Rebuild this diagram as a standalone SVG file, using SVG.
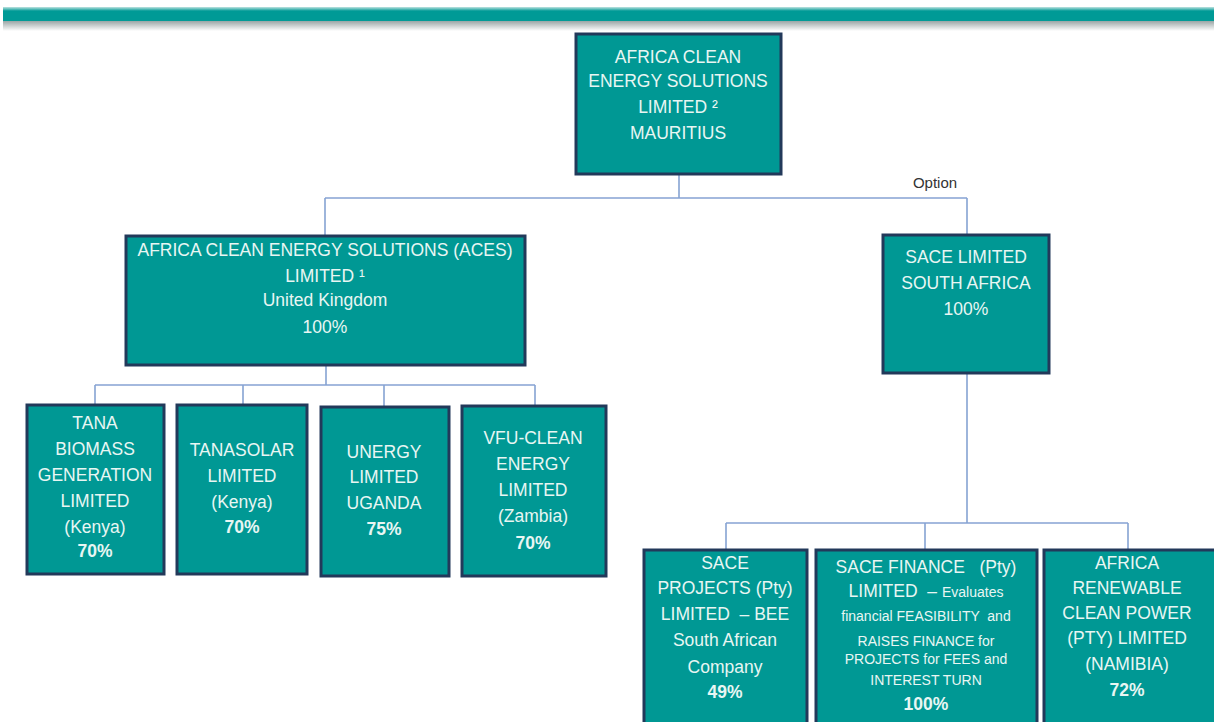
<svg xmlns="http://www.w3.org/2000/svg" width="1214" height="722" viewBox="0 0 1214 722">
<defs>
<linearGradient id="shadow" x1="0" y1="0" x2="0" y2="1">
<stop offset="0" stop-color="#9aa6a6"/>
<stop offset="1" stop-color="#ffffff"/>
</linearGradient>
<linearGradient id="barTop" x1="0" y1="0" x2="0" y2="1">
<stop offset="0" stop-color="#bfe3e0"/>
<stop offset="1" stop-color="#009a96"/>
</linearGradient>
</defs>
<style>
.box{fill:#009894;stroke:#22395a;stroke-width:3}
.t{font-family:"Liberation Sans",Arial,sans-serif;font-size:17.5px;fill:#e8f6f3;text-anchor:middle;white-space:pre}
.s{font-size:14px}
.b{font-weight:bold}
.c{fill:none;stroke:#86a3d3;stroke-width:1.6}
.opt{font-family:"Liberation Sans",Arial,sans-serif;font-size:15px;fill:#333333}
</style>
<rect x="0" y="0" width="1214" height="722" fill="#ffffff"/>
<rect x="3" y="7" width="1211" height="4" fill="url(#barTop)"/>
<rect x="3" y="11" width="1211" height="10" fill="#009a96"/>
<rect x="3" y="21" width="1211" height="10" fill="url(#shadow)"/>

<g id="connectors">
<path class="c" d="M679 175 V198 M325 198 H967 M325 198 V236 M967 198 V235"/>
<path class="c" d="M326 366 V385 M95 385 H535 M95 385 V404 M243 385 V404 M384 385 V406 M535 385 V405"/>
<path class="c" d="M967 374 V523 M726 523 H1128 M726 523 V549 M925 523 V549 M1128 523 V549"/>
<text class="opt" x="935" y="188" text-anchor="middle">Option</text>
</g>

<g id="root">
<rect class="box" x="576" y="34" width="205" height="140"/>
<text class="t"><tspan x="678" y="63">AFRICA CLEAN</tspan><tspan x="678" y="87">ENERGY SOLUTIONS</tspan><tspan x="678" y="113">LIMITED ²</tspan><tspan x="678" y="139">MAURITIUS</tspan></text>
</g>

<g id="aces">
<rect class="box" x="126" y="236" width="399" height="129"/>
<text class="t"><tspan x="325" y="256">AFRICA CLEAN ENERGY SOLUTIONS (ACES)</tspan><tspan x="325" y="282">LIMITED ¹</tspan><tspan x="325" y="306">United Kingdom</tspan><tspan x="325" y="333">100%</tspan></text>
</g>

<g id="sace">
<rect class="box" x="883" y="235" width="166" height="138"/>
<text class="t"><tspan x="966" y="263">SACE LIMITED</tspan><tspan x="966" y="289">SOUTH AFRICA</tspan><tspan x="966" y="315">100%</tspan></text>
</g>

<g id="tana">
<rect class="box" x="27" y="405" width="137" height="169"/>
<text class="t"><tspan x="95" y="429">TANA</tspan><tspan x="95" y="455">BIOMASS</tspan><tspan x="95" y="481">GENERATION</tspan><tspan x="95" y="507">LIMITED</tspan><tspan x="95" y="533">(Kenya)</tspan><tspan class="b" x="95" y="557">70%</tspan></text>
</g>

<g id="tanasolar">
<rect class="box" x="177" y="405" width="130" height="169"/>
<text class="t"><tspan x="242" y="456">TANASOLAR</tspan><tspan x="242" y="482">LIMITED</tspan><tspan x="242" y="508">(Kenya)</tspan><tspan class="b" x="242" y="533">70%</tspan></text>
</g>

<g id="unergy">
<rect class="box" x="321" y="407" width="128" height="169"/>
<text class="t"><tspan x="384" y="458">UNERGY</tspan><tspan x="384" y="483">LIMITED</tspan><tspan x="384" y="509">UGANDA</tspan><tspan class="b" x="384" y="535">75%</tspan></text>
</g>

<g id="vfu">
<rect class="box" x="462" y="406" width="144" height="170"/>
<text class="t"><tspan x="533" y="444">VFU-CLEAN</tspan><tspan x="533" y="470">ENERGY</tspan><tspan x="533" y="496">LIMITED</tspan><tspan x="533" y="522">(Zambia)</tspan><tspan class="b" x="533" y="549">70%</tspan></text>
</g>

<g id="sace-projects">
<rect class="box" x="644" y="550" width="163" height="180"/>
<text class="t"><tspan x="725" y="569">SACE</tspan><tspan x="725" y="594">PROJECTS (Pty)</tspan><tspan x="725" y="620">LIMITED  – BEE</tspan><tspan x="725" y="646">South African</tspan><tspan x="725" y="673">Company</tspan><tspan class="b" x="725" y="698">49%</tspan></text>
</g>

<g id="sace-finance">
<rect class="box" x="816" y="550" width="221" height="180"/>
<text class="t"><tspan x="926" y="573">SACE FINANCE   (Pty)</tspan><tspan x="926" y="597">LIMITED  – <tspan class="s">Evaluates</tspan></tspan><tspan class="s" x="926" y="621">financial FEASIBILITY  and</tspan><tspan class="s" x="926" y="646">RAISES FINANCE for</tspan><tspan class="s" x="926" y="664">PROJECTS for FEES and</tspan><tspan class="s" x="926" y="685">INTEREST TURN</tspan><tspan class="b" x="926" y="710">100%</tspan></text>
</g>

<g id="africa-renewable">
<rect class="box" x="1044" y="550" width="172" height="180"/>
<text class="t"><tspan x="1127" y="569">AFRICA</tspan><tspan x="1127" y="594">RENEWABLE</tspan><tspan x="1127" y="619">CLEAN POWER</tspan><tspan x="1127" y="644">(PTY) LIMITED</tspan><tspan x="1127" y="670">(NAMIBIA)</tspan><tspan class="b" x="1127" y="696">72%</tspan></text>
</g>
</svg>
